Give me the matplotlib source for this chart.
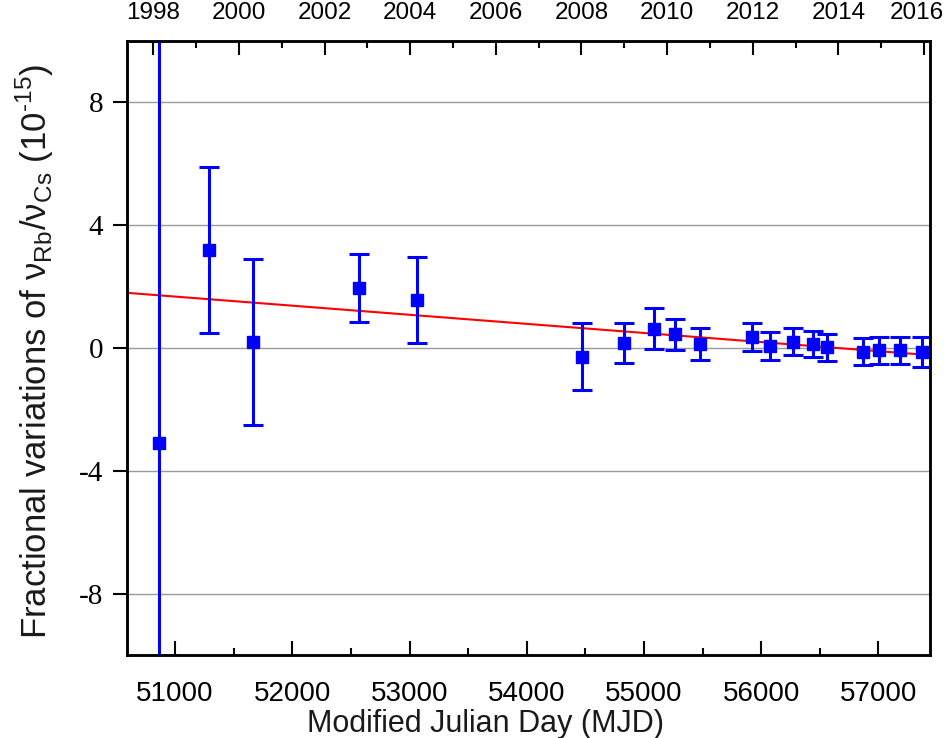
"""Rb/Cs frequency ratio drift vs MJD with linear fit."""
from datetime import date

import numpy as np
import matplotlib
matplotlib.use("Agg")
import matplotlib.pyplot as plt
from matplotlib.ticker import MultipleLocator
from matplotlib.transforms import ScaledTranslation

# measurements (fractional variation, units of 1e-15)
mjd = [50863, 51291, 51667, 52573, 53060, 54470, 54829, 55086, 55265, 55479,
       55923, 56077, 56274, 56444, 56564, 56872, 57009, 57180, 57368]
frac = [-3.10, 3.20, 0.20, 1.95, 1.55, -0.28, 0.16, 0.63, 0.44, 0.13,
        0.35, 0.07, 0.20, 0.12, 0.03, -0.12, -0.08, -0.08, -0.13]
err = [13.1, 2.70, 2.70, 1.10, 1.40, 1.08, 0.65, 0.66, 0.50, 0.53,
       0.45, 0.45, 0.44, 0.42, 0.44, 0.44, 0.44, 0.44, 0.50]

# linear fit: value = fit_at_55000 + fit_slope * (MJD - 55000), slope per day
fit_at_55000 = 0.49
fit_slope = -2.03 / 6850

years = list(range(1998, 2017))
XLIM = (50590, 57440)

plt.rcParams["font.family"] = ["Liberation Sans", "DejaVu Sans"]
plt.rcParams["axes.unicode_minus"] = False

fig = plt.figure(figsize=(9.49, 7.38), dpi=100)
ax = fig.add_axes([0.1338, 0.1125, 0.98 - 0.1338, 0.9444 - 0.1125])

ax.set_xlim(*XLIM)
ax.set_ylim(-10, 10)

for g in (-8, -4, 0, 4, 8):
    ax.axhline(g, color="#9a9a9a", lw=1.0, zorder=0)

xf = np.array(XLIM, dtype=float)
ax.plot(xf, fit_at_55000 + fit_slope * (xf - 55000), color="red", lw=1.5, zorder=2)

ax.errorbar(mjd, frac, yerr=err, fmt="s", color="#0000ff", ms=8.0,
            elinewidth=2.2, capsize=7, capthick=2.2, zorder=3)

# bottom axis
ax.xaxis.set_major_locator(MultipleLocator(1000))
ax.xaxis.set_minor_locator(MultipleLocator(500))
ax.tick_params(axis="x", which="major", direction="in", length=10, width=1.5,
               labelsize=20, pad=19, top=False)
ax.tick_params(axis="x", which="minor", direction="in", length=5, width=1.5, top=False)
ax.set_xlabel("Modified Julian Day (MJD)", fontsize=22, color="#1a1a1a")
ax.xaxis.set_label_coords(0.447, -0.088)

# left axis
ax.set_yticks([-8, -4, 0, 4, 8])
ax.tick_params(axis="y", direction="out", length=10, width=1.5, labelsize=21,
               right=False, pad=7)
for lbl in ax.get_yticklabels():
    lbl.set_fontfamily("Liberation Serif")
ax.set_ylabel("Fractional variations of ν$_\\mathregular{Rb}$/ν$_\\mathregular{Cs}$ "
              "(10$^\\mathregular{\u201015}$)", fontsize=25, color="#1a1a1a")
ax.yaxis.set_label_coords(-0.088, 0.495)

for s in ax.spines.values():
    s.set_linewidth(1.8)

# top axis: calendar years
top = ax.twiny()
top.set_xlim(*XLIM)
epoch = date(1858, 11, 17)
year_mjd = [(date(y, 1, 1) - epoch).days for y in years]
top.set_xticks([m for y, m in zip(years, year_mjd) if y % 2 == 0])
top.set_xticklabels([str(y) for y in years if y % 2 == 0])
top.set_xticks([m for y, m in zip(years, year_mjd) if y % 2 == 1], minor=True)
top.tick_params(axis="x", which="major", direction="in", length=10, width=1.5,
                labelsize=17.5, pad=12)
top.tick_params(axis="x", which="minor", direction="in", length=5, width=1.5)
for s in top.spines.values():
    s.set_linewidth(1.8)

# keep the last year label inside the figure edge
last = top.xaxis.get_major_ticks()[-1].label2
last.set_transform(last.get_transform() + ScaledTranslation(-5 / 72, 0, fig.dpi_scale_trans))

fig.savefig("out.png", dpi=100)
